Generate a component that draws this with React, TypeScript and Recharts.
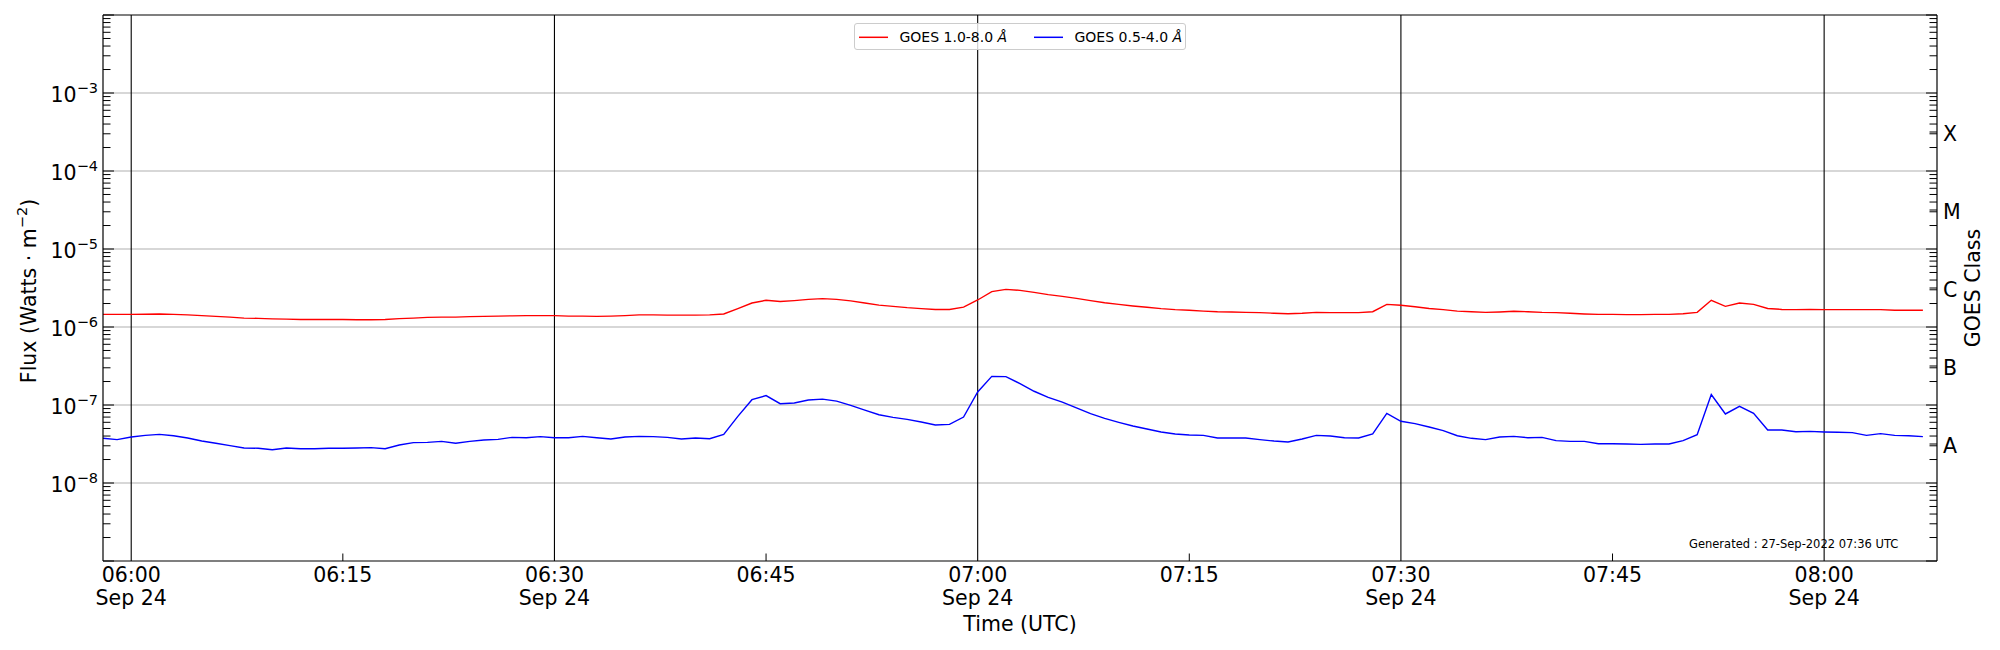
import { LineChart, Line, XAxis, YAxis, ReferenceLine, Legend, Customized } from 'recharts'

const FONT = '"DejaVu Sans", Verdana, sans-serif'

const WIDTH = 2000
const HEIGHT = 650
const LEFT_AXIS_W = 103
const RIGHT_AXIS_W = 63
const X_AXIS_H = 89
const TOP = 15

// GOES XRS one-minute averages, first sample 05:58 UTC
const startMinute = 5 * 60 + 58
const xDomain = [5 * 60 + 58, 8 * 60 + 8]

// 1.0-8.0 Å channel, units of 1e-6 W m^-2
const longChannel = [
  1.45, 1.45, 1.45, 1.46, 1.47, 1.45, 1.43, 1.40, 1.37, 1.34,
  1.30, 1.29, 1.27, 1.26, 1.25, 1.25, 1.25, 1.25, 1.24, 1.24,
  1.25, 1.28, 1.30, 1.33, 1.34, 1.34, 1.36, 1.37, 1.38, 1.39,
  1.40, 1.40, 1.40, 1.38, 1.38, 1.37, 1.38, 1.40, 1.43, 1.43,
  1.42, 1.42, 1.42, 1.43, 1.47, 1.72, 2.03, 2.20, 2.12, 2.18,
  2.26, 2.31, 2.26, 2.16, 2.03, 1.91, 1.84, 1.77, 1.72, 1.68,
  1.68, 1.80, 2.22, 2.84, 3.04, 2.95, 2.78, 2.60, 2.47, 2.33,
  2.18, 2.05, 1.95, 1.86, 1.79, 1.72, 1.67, 1.64, 1.60, 1.57,
  1.56, 1.54, 1.53, 1.50, 1.48, 1.50, 1.54, 1.53, 1.53, 1.53,
  1.57, 1.95, 1.90, 1.82, 1.73, 1.67, 1.60, 1.57, 1.54, 1.56,
  1.59, 1.57, 1.54, 1.53, 1.50, 1.47, 1.45, 1.45, 1.44, 1.44,
  1.45, 1.45, 1.48, 1.54, 2.20, 1.84, 2.03, 1.95, 1.73, 1.68,
  1.67, 1.68, 1.67, 1.67, 1.67, 1.67, 1.67, 1.64, 1.64, 1.64,
]

// 0.5-4.0 Å channel, units of 1e-8 W m^-2
const shortChannel = [
  3.74, 3.60, 3.89, 4.08, 4.20, 4.04, 3.78, 3.45, 3.23, 3.01,
  2.81, 2.79, 2.67, 2.81, 2.75, 2.75, 2.79, 2.79, 2.81, 2.84,
  2.75, 3.07, 3.29, 3.32, 3.42, 3.23, 3.42, 3.56, 3.63, 3.85,
  3.81, 3.93, 3.81, 3.81, 3.96, 3.81, 3.66, 3.89, 3.96, 3.93,
  3.85, 3.66, 3.78, 3.70, 4.20, 7.16, 11.7, 13.2, 10.4, 10.6,
  11.6, 11.9, 11.2, 9.90, 8.60, 7.50, 6.95, 6.55, 6.05, 5.55,
  5.65, 7.00, 14.7, 23.3, 23.1, 18.8, 15.0, 12.5, 10.9, 9.16,
  7.74, 6.75, 6.00, 5.38, 4.92, 4.51, 4.25, 4.12, 4.08, 3.78,
  3.78, 3.78, 3.60, 3.45, 3.36, 3.66, 4.08, 4.01, 3.81, 3.78,
  4.25, 7.82, 6.18, 5.77, 5.22, 4.69, 4.04, 3.74, 3.60, 3.89,
  3.96, 3.81, 3.85, 3.49, 3.42, 3.42, 3.19, 3.19, 3.16, 3.13,
  3.16, 3.16, 3.49, 4.16, 13.6, 7.67, 9.60, 7.82, 4.78, 4.78,
  4.55, 4.59, 4.51, 4.47, 4.42, 4.08, 4.29, 4.08, 4.04, 3.93,
]

const seriesKeys = ['long', 'short']
const seriesNames = ['GOES 1.0-8.0 Å', 'GOES 0.5-4.0 Å']
const seriesColors = ['#ff0000', '#0000ff']

const timeTicks = [360, 375, 390, 405, 420, 435, 450, 465, 480]
const gridTimes = [360, 390, 420, 450, 480]
const dateLabel = 'Sep 24'
const decades = [-9, -8, -7, -6, -5, -4, -3, -2]
const labelledDecades = [-8, -7, -6, -5, -4, -3]
const goesClasses = ['A', 'B', 'C', 'M', 'X']
const classExponents = [-7.5, -6.5, -5.5, -4.5, -3.5]
const generatedNote = 'Generated : 27-Sep-2022 07:36 UTC'

const data = longChannel.map((v, i) => ({
  t: startMinute + i,
  long: v * 1e-6,
  short: shortChannel[i] * 1e-8,
}))

const decadeTicks = decades.map((e) => Math.pow(10, e))
const minorTicks: number[] = []
decades.slice(0, -1).forEach((e) => {
  for (let m = 2; m <= 9; m++) minorTicks.push(m * Math.pow(10, e))
})
const leftTicks = [...decadeTicks, ...minorTicks].sort((a, b) => a - b)
const rightTicks = [...leftTicks, ...classExponents.map((e) => Math.pow(10, e))].sort((a, b) => a - b)

const pad = (n: number) => String(n).padStart(2, '0')
const formatTime = (m: number) => `${pad(Math.floor(m / 60))}:${pad(m % 60)}`

const TimeTick = ({ x, y, payload }: any) => {
  const v = payload.value
  const major = v % 30 === 0
  return (
    <g>
      {!major && <line x1={x} x2={x} y1={y} y2={y - 7.5} stroke="#000" strokeWidth={1} />}
      <text x={x} y={y + 20.5} textAnchor="middle" fontFamily={FONT} fontSize={20.5} fill="#000">
        {formatTime(v)}
      </text>
      {major && (
        <text x={x} y={y + 44} textAnchor="middle" fontFamily={FONT} fontSize={20.5} fill="#000">
          {dateLabel}
        </text>
      )}
    </g>
  )
}

const FluxTick = ({ x, y, payload }: any) => {
  const lg = Math.log10(payload.value)
  const exp = Math.round(lg)
  const isDecade = Math.abs(lg - exp) < 1e-6
  return (
    <g>
      <line x1={x} x2={x + (isDecade ? 11 : 7.5)} y1={y} y2={y} stroke="#000" strokeWidth={1} />
      {isDecade && labelledDecades.includes(exp) && (
        <text x={x - 5} y={y + 8.7} textAnchor="end" fontFamily={FONT} fontSize={20.5} fill="#000">
          10
          <tspan dy={-8.7} fontSize={14.5}>
            {'\u2212' + Math.abs(exp)}
          </tspan>
        </text>
      )}
    </g>
  )
}

const ClassTick = ({ x, y, payload }: any) => {
  const lg = Math.log10(payload.value)
  const ci = classExponents.findIndex((e) => Math.abs(lg - e) < 1e-6)
  const isDecade = Math.abs(lg - Math.round(lg)) < 1e-6
  return (
    <g>
      <line x1={x} x2={x - (isDecade ? 11 : 7.5)} y1={y} y2={y} stroke="#000" strokeWidth={1} />
      {ci >= 0 && (
        <text x={x + 6} y={y + 8.5} textAnchor="start" fontFamily={FONT} fontSize={20.5} fill="#000">
          {goesClasses[ci]}
        </text>
      )}
    </g>
  )
}

const FluxTitle = () => (
  <text
    x={35.5}
    y={291}
    transform="rotate(-90, 35.5, 291)"
    textAnchor="middle"
    fontFamily={FONT}
    fontSize={20.5}
    fill="#000"
  >
    Flux (Watts · m
    <tspan dy={-8.7} fontSize={14.5}>
      {'\u22122'}
    </tspan>
    <tspan dy={8.7}>)</tspan>
  </text>
)

const ClassTitle = () => (
  <text
    x={1980}
    y={288}
    transform="rotate(-90, 1980, 288)"
    textAnchor="middle"
    fontFamily={FONT}
    fontSize={20.5}
    fill="#000"
  >
    GOES Class
  </text>
)

const TimeTitle = () => (
  <text x={1020} y={631} textAnchor="middle" fontFamily={FONT} fontSize={20.5} fill="#000">
    Time (UTC)
  </text>
)

const GeneratedNote = () => (
  <text x={1689} y={547.7} fontFamily={FONT} fontSize={11.5} fill="#000">
    {generatedNote}
  </text>
)

// legend entries keep the plotting order (long channel first)
const GoesLegend = ({ payload }: any) => {
  const entries = seriesKeys.map((key, i) => {
    const found = (payload || []).find((p: any) => p.dataKey === key)
    return { name: found ? String(found.value) : seriesNames[i], color: found ? found.color : seriesColors[i] }
  })
  return (
    <div
      style={{
        width: 332,
        height: 27,
        boxSizing: 'border-box',
        border: '1px solid #cccccc',
        borderRadius: 3,
        background: 'rgba(255,255,255,0.8)',
      }}
    >
      <svg width={330} height={25} style={{ display: 'block' }}>
        {entries.map((entry, i) => {
          const x0 = i === 0 ? 4 : 179
          const base = entry.name.slice(0, entry.name.lastIndexOf(' ') + 1)
          return (
            <g key={entry.name}>
              <line x1={x0} x2={x0 + 29} y1={13.3} y2={13.3} stroke={entry.color} strokeWidth={1.5} />
              <text x={x0 + 40.5} y={17.7} fontFamily={FONT} fontSize={14} fill="#000">
                {base}
                <tspan fontStyle="italic">Å</tspan>
              </text>
            </g>
          )
        })}
      </svg>
    </div>
  )
}

export default function App() {
  return (
    <div style={{ position: 'absolute', left: 0, top: 0, width: WIDTH, height: HEIGHT, background: '#fff' }}>
      <LineChart width={WIDTH} height={HEIGHT} data={data} margin={{ top: TOP, right: 0, bottom: 0, left: 0 }}>
        <XAxis
          dataKey="t"
          type="number"
          domain={xDomain}
          allowDataOverflow
          ticks={timeTicks}
          interval={0}
          tick={<TimeTick />}
          tickLine={false}
          tickSize={0}
          tickMargin={0}
          height={X_AXIS_H}
          axisLine={{ stroke: '#000', strokeWidth: 1.2 }}
          label={{ content: TimeTitle }}
        />
        <YAxis
          yAxisId="left"
          type="number"
          scale="log"
          domain={[1e-9, 1e-2]}
          allowDataOverflow
          ticks={leftTicks}
          interval={0}
          tick={<FluxTick />}
          tickLine={false}
          tickSize={0}
          tickMargin={0}
          width={LEFT_AXIS_W}
          axisLine={{ stroke: '#000', strokeWidth: 1.2 }}
          label={{ content: FluxTitle }}
        />
        <YAxis
          yAxisId="right"
          orientation="right"
          type="number"
          scale="log"
          domain={[1e-9, 1e-2]}
          allowDataOverflow
          ticks={rightTicks}
          interval={0}
          tick={<ClassTick />}
          tickLine={false}
          tickSize={0}
          tickMargin={0}
          width={RIGHT_AXIS_W}
          axisLine={{ stroke: '#000', strokeWidth: 1.2 }}
          label={{ content: ClassTitle }}
        />

        {decades.slice(1, -1).map((e) => (
          <ReferenceLine key={`h${e}`} yAxisId="left" y={Math.pow(10, e)} stroke="#b0b0b0" strokeWidth={1.1} />
        ))}
        {gridTimes.map((t) => (
          <ReferenceLine key={`v${t}`} yAxisId="left" x={t} stroke="#000" strokeWidth={1.1} />
        ))}
        <ReferenceLine yAxisId="left" y={1e-2} stroke="#000" strokeWidth={1.2} />

        {seriesKeys.map((key, i) => (
          <Line
            key={key}
            yAxisId="left"
            dataKey={key}
            name={seriesNames[i]}
            stroke={seriesColors[i]}
            strokeWidth={1.4}
            dot={false}
            activeDot={false}
            type="linear"
            isAnimationActive={false}
          />
        ))}

        <Legend
          layout="vertical"
          align="center"
          verticalAlign="middle"
          wrapperStyle={{ left: 854, top: 23, width: 332, height: 27 }}
          content={GoesLegend}
        />
        <Customized component={GeneratedNote} />
      </LineChart>
    </div>
  )
}
